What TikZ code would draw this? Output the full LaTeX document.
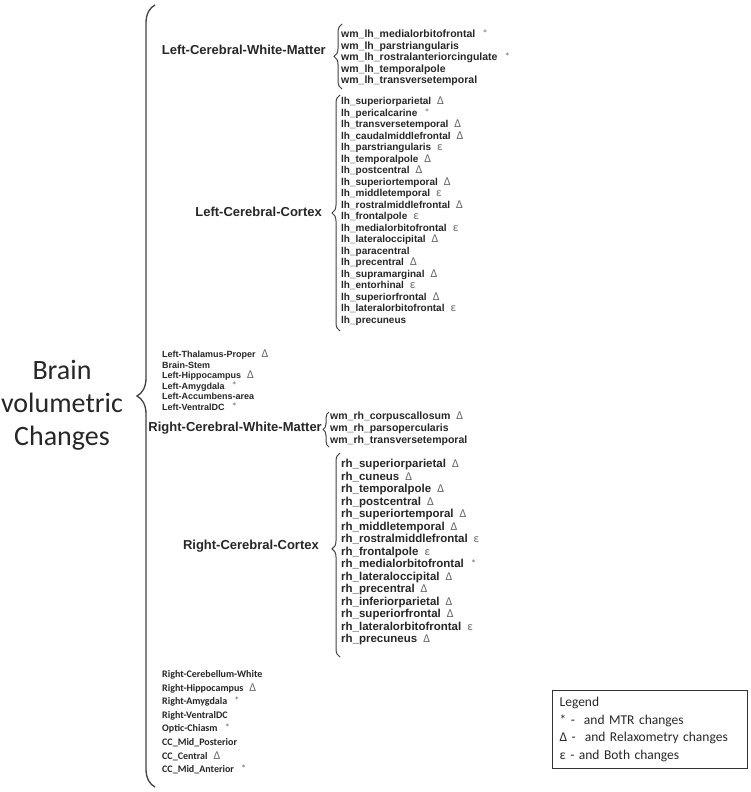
\documentclass[tikz,border=0pt]{standalone}
\usepackage{fontspec}
\setmainfont{Liberation Sans}
\newfontfamily\cbr{Carlito}
\usetikzlibrary{decorations.pathreplacing}
\newcommand\mkS{\hspace{7pt}{\cbr\mdseries\fontsize{11}{11}\selectfont\color{black!55}*}}
\newcommand\mkD{\hspace{6pt}{\cbr\mdseries\fontsize{12}{12}\selectfont\color{black!60}Δ}}
\newcommand\mkE{\hspace{6pt}{\cbr\mdseries\fontsize{12}{12}\selectfont\color{black!60}ε}}

\begin{document}
\begin{tikzpicture}[x=1pt,y=-1pt,font=\bfseries,color=black!85,
lbl/.style={anchor=east,inner sep=0pt,font=\fontsize{13}{13}\selectfont\bfseries},
itm/.style={anchor=west,inner sep=0pt,text height=7pt,text depth=2pt,font=\fontsize{#1}{#1}\selectfont\bfseries},
itm/.default=10.5,
nar/.style={anchor=west,inner sep=0pt,text height=7pt,text depth=2pt,font=\cbr\bfseries\fontsize{10}{10}\selectfont},
brc/.style={decorate,decoration={brace,amplitude=#1},draw=black!75,line width=1pt},
brc/.default=8pt,
legend/.style={draw=black!80,line width=1.2pt,anchor=north west,minimum width=195,minimum height=78,text width=181,align=left,inner xsep=7,font=\cbr\mdseries\fontsize{13.5}{17.5}\selectfont}]
\useasboundingbox (0,0) rectangle (751,792);
\node[align=center,font=\cbr\mdseries\fontsize{28}{33}\selectfont] (root) at (62,405) {Brain\\volumetric\\Changes};
\coordinate (mtop) at (155,5);
\coordinate (mbot) at (155,787);
\draw[brc=18pt,line width=1.3pt] (mbot) -- (mtop);

\node[lbl] (lwm) at (326,50) {Left-Cerebral-White-Matter};
\foreach \n/\m [count=\i] in {medialorbitofrontal/\mkS,parstriangularis/{},rostralanteriorcingulate/\mkS,temporalpole/{},transversetemporal/{}}
  \node[itm] (lw\i) at (341,{35+11.5*(\i-1)}) {wm\_lh\_\n\m};
\coordinate (lwb) at (342,89);
\coordinate (lwt) at (342,24);
\draw[brc] (lwb) -- (lwt);

\node[lbl] (lc) at (322,212) {Left-Cerebral-Cortex};
\foreach \n/\m [count=\i] in {superiorparietal/\mkD,pericalcarine/\mkS,transversetemporal/\mkD,caudalmiddlefrontal/\mkD,parstriangularis/\mkE,temporalpole/\mkD,postcentral/\mkD,superiortemporal/\mkD,middletemporal/\mkE,rostralmiddlefrontal/\mkD,frontalpole/\mkE,medialorbitofrontal/\mkE,lateraloccipital/\mkD,paracentral/{},precentral/\mkD,supramarginal/\mkD,entorhinal/\mkE,superiorfrontal/\mkD,lateralorbitofrontal/\mkE,precuneus/{}}
  \node[itm=10] (lcx\i) at (341,{102+11.5*(\i-1)}) {lh\_\n\m};
\coordinate (lcb) at (340,331);
\coordinate (lct) at (340,95);
\draw[brc] (lcb) -- (lct);

\foreach \n [count=\i] in {Left-Thalamus-Proper\mkD,Brain-Stem,Left-Hippocampus\mkD,Left-Amygdala\mkS,Left-Accumbens-area,Left-VentralDC\mkS}
  \node[itm=9] (lm\i) at (162,{355+10.6*(\i-1)}) {\n};

\node[lbl] (rwm) at (322,428) {Right-Cerebral-White-Matter};
\foreach \n/\m [count=\i] in {corpuscallosum/\mkD,parsopercularis/{},transversetemporal/{}}
  \node[itm] (rw\i) at (330,{417+12*(\i-1)}) {wm\_rh\_\n\m};
\coordinate (rwb) at (329,447);
\coordinate (rwt) at (329,412);
\draw[brc=6pt] (rwb) -- (rwt);

\node[lbl] (rc) at (319,546) {Right-Cerebral-Cortex};
\foreach \n/\m [count=\i] in {superiorparietal/\mkD,cuneus/\mkD,temporalpole/\mkD,postcentral/\mkD,superiortemporal/\mkD,middletemporal/\mkD,rostralmiddlefrontal/\mkE,frontalpole/\mkE,medialorbitofrontal/\mkS,lateraloccipital/\mkD,precentral/\mkD,inferiorparietal/\mkD,superiorfrontal/\mkD,lateralorbitofrontal/\mkE,precuneus/\mkD}
  \node[itm=11.5] (rcx\i) at (341,{465+12.5*(\i-1)}) {rh\_\n\m};
\coordinate (rcb) at (340,657);
\coordinate (rct) at (340,453);
\draw[brc,decoration={aspect=0.53}] (rcb) -- (rct);

\foreach \n [count=\i] in {Right-Cerebellum-White,Right-Hippocampus\mkD,Right-Amygdala\mkS,Right-VentralDC,Optic-Chiasm\mkS,CC\_Mid\_Posterior,CC\_Central\mkD,CC\_Mid\_Anterior\mkS}
  \node[nar] (rm\i) at (162,{675+13.6*(\i-1)}) {\n};

\node[legend] (leg) at (552,690) {Legend\\{*} - \ and MTR changes\\Δ - \ and Relaxometry changes\\ε - and Both changes};
\end{tikzpicture}
\end{document}
